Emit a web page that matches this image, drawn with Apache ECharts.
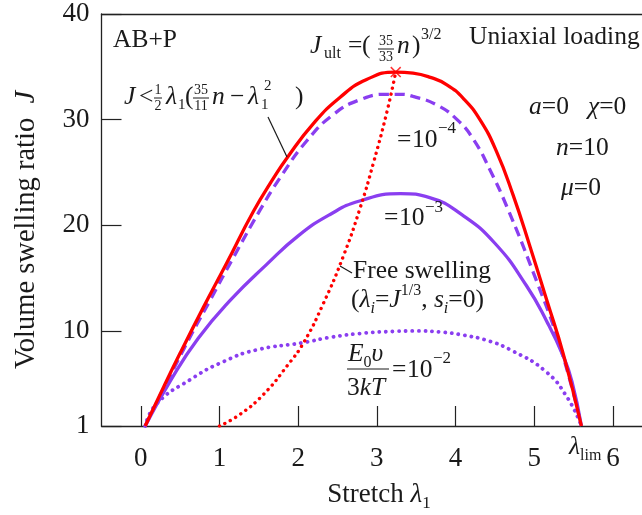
<!DOCTYPE html>
<html>
<head>
<meta charset="utf-8">
<script src="https://cdn.jsdelivr.net/npm/echarts@6/dist/echarts.min.js"></script>
<style>
  html, body { margin: 0; padding: 0; background: #fff; }
  #chart { width: 642px; height: 515px; }
</style>
</head>
<body>
<div id="chart"></div>
<script>
  // values: [stretch λ1, volume swelling ratio J]
  const upperBound = [[0.055, 1], [0.29, 4.7], [0.5, 7.9], [0.8, 12.3], [1.09, 16.4], [1.43, 21.3], [1.69, 24.5],
    [1.86, 26.4], [2.19, 29.6], [2.53, 32.1], [2.87, 33.8], [3.24, 34.5], [3.46, 34.4], [3.68, 34.0], [3.89, 33.3],
    [4.10, 32.0], [4.31, 30.0], [4.52, 27.0], [4.73, 22.9], [4.95, 17.9], [5.16, 12.9], [5.37, 7.8], [5.60, 1]]
  const curve1e4 = [[0.055, 1], [0.54, 8.2], [0.88, 12.9], [1.18, 17.0], [1.52, 21.5], [1.77, 24.5], [2.11, 28.0],
    [2.45, 30.5], [2.79, 31.9], [3.13, 32.4], [3.30, 32.4], [3.46, 32.2], [3.76, 31.4], [4.02, 30.0], [4.23, 28.1],
    [4.44, 25.2], [4.65, 21.8], [4.99, 15.5], [5.33, 8.5], [5.60, 1]]
  const curve1e3 = [[0.055, 1], [0.37, 5.2], [0.73, 9.3], [1.15, 13.0], [1.6, 16.3], [2.0, 19.0], [2.4, 21.0],
    [2.78, 22.3], [3.30, 23.0], [3.68, 22.6], [4.08, 21.0], [4.5, 18.3], [4.9, 14.3], [5.16, 10.9], [5.37, 7.6],
    [5.48, 5.2], [5.60, 1]]
  const curve1e2 = [[0.055, 1], [0.2, 3.1], [0.63, 5.4], [1.05, 7.1], [1.47, 8.2], [2.07, 8.9], [2.41, 9.4],
    [2.85, 9.8], [3.21, 9.95], [3.5, 10.0], [3.8, 9.9], [4.1, 9.6], [4.4, 9.1], [4.7, 8.2], [5.14, 6.2],
    [5.42, 3.7], [5.60, 1]]
  const freeSwelling = [[1.0, 1], [1.26, 2.1], [1.56, 4.0], [1.86, 6.7], [2.07, 8.9], [2.32, 12.6], [2.57, 17.0],
    [2.79, 21.7], [2.96, 26.0], [3.13, 30.8], [3.24, 34.5]]
  const ultPoint = [[3.24, 34.5]]
  const xTicks = [0, 1, 2, 3, 4, 5, 6]
  const yTicks = [1, 10, 20, 30, 40]

  const serif = "'Liberation Serif', 'DejaVu Serif', serif"
  const ink = '#1a1a1a'
  const red = '#ff0000'
  const purple = '#8a3ef0'
  const fs = 25.5

  const rich = {
    r: { fontFamily: serif, fontSize: fs, lineHeight: 34, color: ink },
    i: { fontFamily: serif, fontSize: fs, lineHeight: 34, fontStyle: 'italic', color: ink },
    sub: { fontFamily: serif, fontSize: 16, lineHeight: 16, verticalAlign: 'bottom', color: ink },
    subi: { fontFamily: serif, fontSize: 16, lineHeight: 16, verticalAlign: 'bottom', fontStyle: 'italic', color: ink },
    sup: { fontFamily: serif, fontSize: 16, lineHeight: 16, verticalAlign: 'top', color: ink },
    tr: { fontFamily: serif, fontSize: 28.5, lineHeight: 34, color: ink },
    ti: { fontFamily: serif, fontSize: 28.5, lineHeight: 34, fontStyle: 'italic', color: ink },
    xr: { fontFamily: serif, fontSize: 27, lineHeight: 34, color: ink },
    xi: { fontFamily: serif, fontSize: 27, lineHeight: 34, fontStyle: 'italic', color: ink },
    xs: { fontFamily: serif, fontSize: 17, lineHeight: 17, verticalAlign: 'bottom', color: ink }
  }

  // plain / rich text helper for the annotations
  function t(x, y, text, opt) {
    opt = opt || {}
    return {
      type: 'text', x: x, y: y, rotation: opt.rotation || 0, z: 100,
      style: {
        text: text, rich: rich, fill: ink,
        font: (opt.italic ? 'italic ' : '') + (opt.size || fs) + 'px ' + serif,
        align: opt.align || 'left', verticalAlign: 'middle'
      }
    }
  }
  function frac(cx, cy, num, den, size, halfW) {
    return [
      t(cx, cy - 8, num, { size: size, align: 'center' }),
      t(cx, cy + 8, den, { size: size, align: 'center' }),
      { type: 'line', z: 100, shape: { x1: cx - halfW, y1: cy, x2: cx + halfW, y2: cy }, style: { stroke: ink, lineWidth: 1 } }
    ]
  }
  function seg(x1, y1, x2, y2) {
    return { type: 'line', z: 100, shape: { x1: x1, y1: y1, x2: x2, y2: y2 }, style: { stroke: ink, lineWidth: 1.2 } }
  }

  const graphics = [].concat(
    t(113, 40, 'AB+P'),
    t(469, 37, 'Uniaxial loading'),
    // J < 1/2 λ1 (35/11 n − λ1^2)
    t(124, 97, 'J', { italic: true }), t(139, 97, '<'),
    frac(158, 98, '1', '2', 14, 4),
    t(166, 97, 'λ', { italic: true }), t(178, 105, '1', { size: 15 }), t(185, 97, '('),
    frac(201, 98, '35', '11', 14, 8),
    t(212, 97, 'n', { italic: true }), t(230, 97, '−'),
    t(248, 97, 'λ', { italic: true }), t(261, 105, '1', { size: 15 }), t(264, 86, '2', { size: 15 }), t(295, 97, ')'),
    seg(268, 117, 287, 157),
    // J_ult = (35/33 n)^(3/2)
    t(310, 46, 'J', { italic: true }), t(324, 54, 'ult', { size: 16 }), t(348, 46, '='), t(362, 46, '('),
    frac(386, 49, '35', '33', 14, 8),
    t(397, 46, 'n', { italic: true }), t(412, 46, ')'), t(421, 35, '3/2', { size: 16 }),
    // parameter labels
    t(397, 140, '='), t(412, 140, '10'), t(438, 129, '−4', { size: 17 }),
    t(384, 218, '='), t(399, 218, '10'), t(425, 208, '−3', { size: 17 }),
    t(353, 271, 'Free swelling'),
    t(351, 300, '{r|(}{i|λ}{subi|i}{r|=}{i|J}{sup|1/3}{r|, }{i|s}{subi|i}{r|=0)}'),
    seg(340, 266, 352, 273),
    t(348, 354, '{i|E}{sub|0}{i|υ}'),
    { type: 'line', z: 100, shape: { x1: 347, y1: 369, x2: 389, y2: 369 }, style: { stroke: ink, lineWidth: 1.2 } },
    t(347, 388, '{r|3}{i|kT}'),
    t(392, 370, '='), t(407, 370, '10'), t(433, 359, '−2', { size: 17 }),
    t(529, 107, '{i|a}{r|=0   }{i|χ}{r|=0}'),
    t(556, 148, '{i|n}{r|=10}'),
    t(561, 188, '{i|μ}{r|=0}'),
    t(569, 447, '{i|λ}{sub|lim}'),
    // axis titles
    t(379, 495, '{xr|Stretch }{xi|λ}{xs|1}', { align: 'center' }),
    t(27, 230, '{tr|Volume swelling ratio  }{ti|J}', { align: 'center', rotation: Math.PI / 2 })
  )

  const chart = echarts.init(document.getElementById('chart'), null, { renderer: 'canvas' })

  const lineBase = { type: 'line', showSymbol: false, symbol: 'none', smooth: 0.5, silent: true }
  const frame = { color: '#222', width: 1.3 }

  chart.setOption({
    animation: false,
    backgroundColor: '#fff',
    grid: { left: 101.5, right: 0, top: 14, bottom: 89, containLabel: false },
    xAxis: [
      {
        type: 'value', min: -0.5, max: 6.37,
        splitLine: { show: false },
        axisLine: { onZero: false, lineStyle: frame },
        axisTick: { inside: true, length: 20, customValues: xTicks, lineStyle: { color: '#222', width: 1.2 } },
        axisLabel: { customValues: xTicks, margin: 19, color: ink, fontFamily: serif, fontSize: 27 }
      },
      {
        // top edge of the frame
        type: 'value', position: 'top', min: -0.5, max: 6.37,
        splitLine: { show: false }, axisTick: { show: false }, axisLabel: { show: false },
        axisLine: { show: true, onZero: false, lineStyle: frame }
      }
    ],
    yAxis: {
      type: 'value', min: 1, max: 40,
      splitLine: { show: false },
      axisLine: { onZero: false, lineStyle: frame },
      axisTick: { inside: true, length: 20, customValues: yTicks, lineStyle: { color: '#222', width: 1.2 } },
      axisLabel: { customValues: yTicks, margin: 12, color: ink, fontFamily: serif, fontSize: 27 }
    },
    series: [
      { ...lineBase, name: 'bound', data: upperBound, lineStyle: { color: red, width: 3.3 }, z: 5 },
      { ...lineBase, name: '1e-4', data: curve1e4, lineStyle: { color: purple, width: 3.3, type: [10, 6] }, z: 4 },
      { ...lineBase, name: '1e-3', data: curve1e3, lineStyle: { color: purple, width: 3.3 }, z: 4 },
      { ...lineBase, name: '1e-2', data: curve1e2, lineStyle: { color: purple, width: 3.8, type: [0.1, 6.5], cap: 'round' }, z: 4 },
      { ...lineBase, name: 'free', data: freeSwelling, lineStyle: { color: red, width: 3.4, type: [0.1, 6], cap: 'round' }, z: 6 },
      {
        type: 'scatter', name: 'ult', data: ultPoint, silent: true, z: 7,
        symbol: 'path://M0,1L1,0L5,4L9,0L10,1L6,5L10,9L9,10L5,6L1,10L0,9L4,5Z',
        symbolSize: 11, itemStyle: { color: red }
      }
    ],
    graphic: graphics
  })
</script>
</body>
</html>
